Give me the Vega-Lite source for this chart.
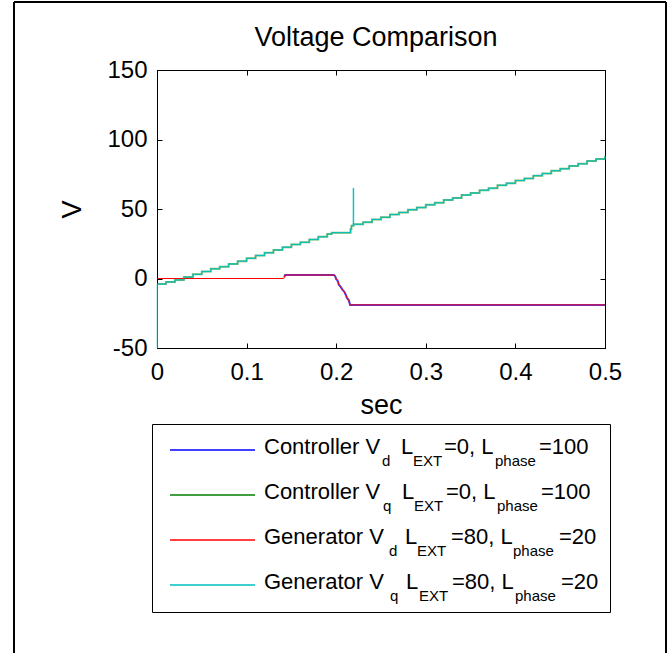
{
  "$schema": "https://vega.github.io/schema/vega-lite/v6.json",
  "background": "white",
  "padding": {"left": 12, "top": 0, "right": 6, "bottom": 0},
  "autosize": {"type": "pad"},
  "config": {
    "font": "Liberation Sans",
    "view": {"stroke": "black", "strokeWidth": 1},
    "axis": {
      "labelFont": "Liberation Sans", "titleFont": "Liberation Sans",
      "domainColor": "black", "tickColor": "black", "labelColor": "black", "titleColor": "black",
      "grid": false, "tickSize": -5, "tickWidth": 1, "domainWidth": 1,
      "labelFontSize": 24, "titleFontSize": 27, "titleFontWeight": "normal",
      "labelOverlap": false, "labelFlush": false
    }
  },
  "datasets": {
    "series": [
      {"series": "Controller Vd", "t": 0.142, "v": 1},
      {"series": "Controller Vd", "t": 0.143, "v": 2.5},
      {"series": "Controller Vd", "t": 0.1975, "v": 2.5},
      {"series": "Controller Vd", "t": 0.199, "v": 1.5},
      {"series": "Controller Vd", "t": 0.2, "v": -0.5},
      {"series": "Controller Vd", "t": 0.2015, "v": -1.5},
      {"series": "Controller Vd", "t": 0.203, "v": -4.5},
      {"series": "Controller Vd", "t": 0.205, "v": -6},
      {"series": "Controller Vd", "t": 0.207, "v": -8},
      {"series": "Controller Vd", "t": 0.209, "v": -9.5},
      {"series": "Controller Vd", "t": 0.2105, "v": -11.5},
      {"series": "Controller Vd", "t": 0.212, "v": -14},
      {"series": "Controller Vd", "t": 0.214, "v": -15.5},
      {"series": "Controller Vd", "t": 0.2155, "v": -19},
      {"series": "Controller Vd", "t": 0.5, "v": -19},

      {"series": "Controller Vq", "t": 0, "v": -4},
      {"series": "Controller Vq", "t": 0.01, "v": -2.5},
      {"series": "Controller Vq", "t": 0.02, "v": -1},
      {"series": "Controller Vq", "t": 0.03, "v": 1},
      {"series": "Controller Vq", "t": 0.04, "v": 3},
      {"series": "Controller Vq", "t": 0.05, "v": 5},
      {"series": "Controller Vq", "t": 0.06, "v": 7},
      {"series": "Controller Vq", "t": 0.07, "v": 8.5},
      {"series": "Controller Vq", "t": 0.08, "v": 10.5},
      {"series": "Controller Vq", "t": 0.09, "v": 12.5},
      {"series": "Controller Vq", "t": 0.1, "v": 14.5},
      {"series": "Controller Vq", "t": 0.11, "v": 16.5},
      {"series": "Controller Vq", "t": 0.12, "v": 18.5},
      {"series": "Controller Vq", "t": 0.13, "v": 20.5},
      {"series": "Controller Vq", "t": 0.14, "v": 22.5},
      {"series": "Controller Vq", "t": 0.15, "v": 24.5},
      {"series": "Controller Vq", "t": 0.16, "v": 26},
      {"series": "Controller Vq", "t": 0.17, "v": 28},
      {"series": "Controller Vq", "t": 0.18, "v": 30},
      {"series": "Controller Vq", "t": 0.19, "v": 32},
      {"series": "Controller Vq", "t": 0.195, "v": 33},
      {"series": "Controller Vq", "t": 0.216, "v": 35.5},
      {"series": "Controller Vq", "t": 0.217, "v": 38},
      {"series": "Controller Vq", "t": 0.2195, "v": 39},
      {"series": "Controller Vq", "t": 0.23, "v": 40.5},
      {"series": "Controller Vq", "t": 0.24, "v": 42.5},
      {"series": "Controller Vq", "t": 0.25, "v": 44},
      {"series": "Controller Vq", "t": 0.26, "v": 46},
      {"series": "Controller Vq", "t": 0.27, "v": 47.5},
      {"series": "Controller Vq", "t": 0.28, "v": 49.5},
      {"series": "Controller Vq", "t": 0.29, "v": 51},
      {"series": "Controller Vq", "t": 0.3, "v": 53},
      {"series": "Controller Vq", "t": 0.31, "v": 54.5},
      {"series": "Controller Vq", "t": 0.32, "v": 56.5},
      {"series": "Controller Vq", "t": 0.33, "v": 58},
      {"series": "Controller Vq", "t": 0.34, "v": 60},
      {"series": "Controller Vq", "t": 0.35, "v": 61.5},
      {"series": "Controller Vq", "t": 0.36, "v": 63.5},
      {"series": "Controller Vq", "t": 0.37, "v": 65},
      {"series": "Controller Vq", "t": 0.38, "v": 67},
      {"series": "Controller Vq", "t": 0.39, "v": 68.5},
      {"series": "Controller Vq", "t": 0.4, "v": 70.5},
      {"series": "Controller Vq", "t": 0.41, "v": 72},
      {"series": "Controller Vq", "t": 0.42, "v": 74},
      {"series": "Controller Vq", "t": 0.43, "v": 75.5},
      {"series": "Controller Vq", "t": 0.44, "v": 77.5},
      {"series": "Controller Vq", "t": 0.45, "v": 79},
      {"series": "Controller Vq", "t": 0.46, "v": 81},
      {"series": "Controller Vq", "t": 0.47, "v": 82.5},
      {"series": "Controller Vq", "t": 0.48, "v": 84.5},
      {"series": "Controller Vq", "t": 0.49, "v": 86},
      {"series": "Controller Vq", "t": 0.5, "v": 88},

      {"series": "Generator Vd", "t": 0, "v": 0},
      {"series": "Generator Vd", "t": 0.1415, "v": 0},
      {"series": "Generator Vd", "t": 0.143, "v": 2.5},
      {"series": "Generator Vd", "t": 0.1975, "v": 2.5},
      {"series": "Generator Vd", "t": 0.199, "v": 1.5},
      {"series": "Generator Vd", "t": 0.2, "v": -0.5},
      {"series": "Generator Vd", "t": 0.2015, "v": -1.5},
      {"series": "Generator Vd", "t": 0.203, "v": -4.5},
      {"series": "Generator Vd", "t": 0.205, "v": -6},
      {"series": "Generator Vd", "t": 0.207, "v": -8},
      {"series": "Generator Vd", "t": 0.209, "v": -9.5},
      {"series": "Generator Vd", "t": 0.2105, "v": -11.5},
      {"series": "Generator Vd", "t": 0.212, "v": -14},
      {"series": "Generator Vd", "t": 0.214, "v": -15.5},
      {"series": "Generator Vd", "t": 0.2155, "v": -19},
      {"series": "Generator Vd", "t": 0.5, "v": -19},

      {"series": "Generator Vq", "t": 0, "v": -50},
      {"series": "Generator Vq", "t": 0.0003, "v": -4},
      {"series": "Generator Vq", "t": 0.01, "v": -2.5},
      {"series": "Generator Vq", "t": 0.02, "v": -1},
      {"series": "Generator Vq", "t": 0.03, "v": 1},
      {"series": "Generator Vq", "t": 0.04, "v": 3},
      {"series": "Generator Vq", "t": 0.05, "v": 5},
      {"series": "Generator Vq", "t": 0.06, "v": 7},
      {"series": "Generator Vq", "t": 0.07, "v": 8.5},
      {"series": "Generator Vq", "t": 0.08, "v": 10.5},
      {"series": "Generator Vq", "t": 0.09, "v": 12.5},
      {"series": "Generator Vq", "t": 0.1, "v": 14.5},
      {"series": "Generator Vq", "t": 0.11, "v": 16.5},
      {"series": "Generator Vq", "t": 0.12, "v": 18.5},
      {"series": "Generator Vq", "t": 0.13, "v": 20.5},
      {"series": "Generator Vq", "t": 0.14, "v": 22.5},
      {"series": "Generator Vq", "t": 0.15, "v": 24.5},
      {"series": "Generator Vq", "t": 0.16, "v": 26},
      {"series": "Generator Vq", "t": 0.17, "v": 28},
      {"series": "Generator Vq", "t": 0.18, "v": 30},
      {"series": "Generator Vq", "t": 0.19, "v": 32},
      {"series": "Generator Vq", "t": 0.195, "v": 33},
      {"series": "Generator Vq", "t": 0.216, "v": 35.5},
      {"series": "Generator Vq", "t": 0.217, "v": 38},
      {"series": "Generator Vq", "t": 0.219, "v": 65},
      {"series": "Generator Vq", "t": 0.2195, "v": 39},
      {"series": "Generator Vq", "t": 0.23, "v": 40.5},
      {"series": "Generator Vq", "t": 0.24, "v": 42.5},
      {"series": "Generator Vq", "t": 0.25, "v": 44},
      {"series": "Generator Vq", "t": 0.26, "v": 46},
      {"series": "Generator Vq", "t": 0.27, "v": 47.5},
      {"series": "Generator Vq", "t": 0.28, "v": 49.5},
      {"series": "Generator Vq", "t": 0.29, "v": 51},
      {"series": "Generator Vq", "t": 0.3, "v": 53},
      {"series": "Generator Vq", "t": 0.31, "v": 54.5},
      {"series": "Generator Vq", "t": 0.32, "v": 56.5},
      {"series": "Generator Vq", "t": 0.33, "v": 58},
      {"series": "Generator Vq", "t": 0.34, "v": 60},
      {"series": "Generator Vq", "t": 0.35, "v": 61.5},
      {"series": "Generator Vq", "t": 0.36, "v": 63.5},
      {"series": "Generator Vq", "t": 0.37, "v": 65},
      {"series": "Generator Vq", "t": 0.38, "v": 67},
      {"series": "Generator Vq", "t": 0.39, "v": 68.5},
      {"series": "Generator Vq", "t": 0.4, "v": 70.5},
      {"series": "Generator Vq", "t": 0.41, "v": 72},
      {"series": "Generator Vq", "t": 0.42, "v": 74},
      {"series": "Generator Vq", "t": 0.43, "v": 75.5},
      {"series": "Generator Vq", "t": 0.44, "v": 77.5},
      {"series": "Generator Vq", "t": 0.45, "v": 79},
      {"series": "Generator Vq", "t": 0.46, "v": 81},
      {"series": "Generator Vq", "t": 0.47, "v": 82.5},
      {"series": "Generator Vq", "t": 0.48, "v": 84.5},
      {"series": "Generator Vq", "t": 0.49, "v": 86},
      {"series": "Generator Vq", "t": 0.5, "v": 88}
    ],
    "legend": [
      {"series": "Controller Vd", "row": 0, "part": 1, "text": "Controller V", "sub": false, "pos": 112},
      {"series": "Controller Vd", "row": 0, "part": 2, "text": "d", "sub": true, "pos": 230},
      {"series": "Controller Vd", "row": 0, "part": 3, "text": "L", "sub": false, "pos": 249},
      {"series": "Controller Vd", "row": 0, "part": 4, "text": "EXT", "sub": true, "pos": 261},
      {"series": "Controller Vd", "row": 0, "part": 5, "text": "=0, L", "sub": false, "pos": 292},
      {"series": "Controller Vd", "row": 0, "part": 6, "text": "phase", "sub": true, "pos": 343},
      {"series": "Controller Vd", "row": 0, "part": 7, "text": "=100", "sub": false, "pos": 387},

      {"series": "Controller Vq", "row": 1, "part": 1, "text": "Controller V", "sub": false, "pos": 112},
      {"series": "Controller Vq", "row": 1, "part": 2, "text": "q", "sub": true, "pos": 231},
      {"series": "Controller Vq", "row": 1, "part": 3, "text": "L", "sub": false, "pos": 250},
      {"series": "Controller Vq", "row": 1, "part": 4, "text": "EXT", "sub": true, "pos": 262},
      {"series": "Controller Vq", "row": 1, "part": 5, "text": "=0, L", "sub": false, "pos": 294},
      {"series": "Controller Vq", "row": 1, "part": 6, "text": "phase", "sub": true, "pos": 345},
      {"series": "Controller Vq", "row": 1, "part": 7, "text": "=100", "sub": false, "pos": 389},

      {"series": "Generator Vd", "row": 2, "part": 1, "text": "Generator V", "sub": false, "pos": 112},
      {"series": "Generator Vd", "row": 2, "part": 2, "text": "d", "sub": true, "pos": 237},
      {"series": "Generator Vd", "row": 2, "part": 3, "text": "L", "sub": false, "pos": 253},
      {"series": "Generator Vd", "row": 2, "part": 4, "text": "EXT", "sub": true, "pos": 265},
      {"series": "Generator Vd", "row": 2, "part": 5, "text": "=80, L", "sub": false, "pos": 299},
      {"series": "Generator Vd", "row": 2, "part": 6, "text": "phase", "sub": true, "pos": 361},
      {"series": "Generator Vd", "row": 2, "part": 7, "text": "=20", "sub": false, "pos": 407},

      {"series": "Generator Vq", "row": 3, "part": 1, "text": "Generator V", "sub": false, "pos": 112},
      {"series": "Generator Vq", "row": 3, "part": 2, "text": "q", "sub": true, "pos": 238},
      {"series": "Generator Vq", "row": 3, "part": 3, "text": "L", "sub": false, "pos": 254},
      {"series": "Generator Vq", "row": 3, "part": 4, "text": "EXT", "sub": true, "pos": 267},
      {"series": "Generator Vq", "row": 3, "part": 5, "text": "=80, L", "sub": false, "pos": 300},
      {"series": "Generator Vq", "row": 3, "part": 6, "text": "phase", "sub": true, "pos": 363},
      {"series": "Generator Vq", "row": 3, "part": 7, "text": "=20", "sub": false, "pos": 409}
    ]
  },
  "spacing": 76,
  "bounds": "flush",
  "center": true,
  "resolve": {"scale": {"x": "independent", "y": "independent", "color": "independent"}},
  "vconcat": [
    {
      "width": 448,
      "height": 278,
      "title": {
        "text": "Voltage Comparison", "font": "Liberation Sans", "fontSize": 27, "fontWeight": "normal",
        "color": "black", "anchor": "middle", "frame": "group", "baseline": "alphabetic", "offset": -15, "dx": -5
      },
      "data": {"name": "series"},
      "resolve": {"axis": {"x": "independent", "y": "independent"}},
      "layer": [
        {
          "transform": [{"filter": "datum.series === 'Controller Vd'"}],
          "mark": {"type": "line", "strokeWidth": 2, "interpolate": "linear", "color": "#0000ff", "opacity": 0.75},
          "encoding": {
            "x": {
              "field": "t", "type": "quantitative",
              "scale": {"domain": [0, 0.5], "nice": false, "zero": false},
              "axis": {
                "orient": "bottom", "title": "sec", "values": [0, 0.1, 0.2, 0.3, 0.4, 0.5],
                "labelExpr": "'' + datum.value", "labelPadding": 17.5, "titlePadding": 8
              }
            },
            "y": {
              "field": "v", "type": "quantitative",
              "scale": {"domain": [-50, 150], "nice": false, "zero": false},
              "axis": {
                "orient": "left", "title": "V", "values": [-50, 0, 50, 100, 150],
                "labelExpr": "'' + datum.value", "labelPadding": 15, "titlePadding": 20
              }
            }
          }
        },
        {
          "transform": [{"filter": "datum.series === 'Controller Vq'"}],
          "mark": {"type": "line", "strokeWidth": 2, "interpolate": "step-after", "color": "#008000", "opacity": 0.55},
          "encoding": {
            "x": {
              "field": "t", "type": "quantitative",
              "axis": {"orient": "top", "title": null, "labels": false, "values": [0, 0.1, 0.2, 0.3, 0.4, 0.5]}
            },
            "y": {
              "field": "v", "type": "quantitative",
              "axis": {"orient": "right", "title": null, "labels": false, "values": [-50, 0, 50, 100, 150]}
            }
          }
        },
        {
          "transform": [{"filter": "datum.series === 'Generator Vd'"}],
          "mark": {"type": "line", "strokeWidth": 1, "interpolate": "linear", "color": "#ff0000"},
          "encoding": {
            "x": {"field": "t", "type": "quantitative", "axis": null},
            "y": {"field": "v", "type": "quantitative", "axis": null}
          }
        },
        {
          "transform": [{"filter": "datum.series === 'Generator Vq'"}],
          "mark": {"type": "line", "strokeWidth": 1, "interpolate": "step-after", "color": "#00bfbf"},
          "encoding": {
            "x": {"field": "t", "type": "quantitative", "axis": null},
            "y": {"field": "v", "type": "quantitative", "axis": null}
          }
        }
      ]
    },
    {
      "width": 458,
      "height": 188,
      "data": {"name": "legend"},
      "layer": [
        {
          "transform": [{"filter": "datum.part === 1"}],
          "mark": {"type": "rule", "strokeWidth": 1.5, "yOffset": -4},
          "encoding": {
            "x": {"datum": 18, "type": "quantitative", "scale": {"domain": [0, 458], "nice": false, "zero": false}, "axis": null},
            "x2": {"datum": 103},
            "y": {"field": "row", "type": "quantitative", "scale": {"domain": [-0.66667, 3.51111], "reverse": true, "nice": false, "zero": false}, "axis": null},
            "color": {
              "field": "row", "type": "ordinal", "legend": null,
              "scale": {"domain": [0, 1, 2, 3], "range": ["#0000ff", "#008000", "#ff0000", "#00bfbf"]}
            }
          }
        },
        {
          "transform": [{"filter": "!datum.sub"}],
          "mark": {"type": "text", "align": "left", "baseline": "alphabetic", "fontSize": 22, "font": "Liberation Sans", "color": "black"},
          "encoding": {
            "x": {"field": "pos", "type": "quantitative", "axis": null},
            "y": {"field": "row", "type": "quantitative", "axis": null},
            "text": {"field": "text"}
          }
        },
        {
          "transform": [{"filter": "datum.sub"}],
          "mark": {"type": "text", "align": "left", "baseline": "alphabetic", "fontSize": 15, "dy": 11.5, "font": "Liberation Sans", "color": "black"},
          "encoding": {
            "x": {"field": "pos", "type": "quantitative", "axis": null},
            "y": {"field": "row", "type": "quantitative", "axis": null},
            "text": {"field": "text"}
          }
        },
        {
          "data": {"values": [{"edge": "left"}]},
          "mark": {"type": "rule", "strokeWidth": 2, "color": "black"},
          "encoding": {
            "x": {"datum": -138, "type": "quantitative", "axis": null},
            "y": {"datum": -10.04444, "type": "quantitative", "axis": null},
            "y2": {"datum": 4.42222}
          }
        },
        {
          "data": {"values": [{"edge": "right"}]},
          "mark": {"type": "rule", "strokeWidth": 2, "color": "black"},
          "encoding": {
            "x": {"datum": 514, "type": "quantitative", "axis": null},
            "y": {"datum": -10.04444, "type": "quantitative", "axis": null},
            "y2": {"datum": 4.42222}
          }
        },
        {
          "data": {"values": [{"edge": "top"}]},
          "mark": {"type": "rule", "strokeWidth": 2, "color": "black"},
          "encoding": {
            "x": {"datum": -138, "type": "quantitative", "axis": null},
            "x2": {"datum": 514},
            "y": {"datum": -10.04444, "type": "quantitative", "axis": null}
          }
        }
      ]
    }
  ]
}
